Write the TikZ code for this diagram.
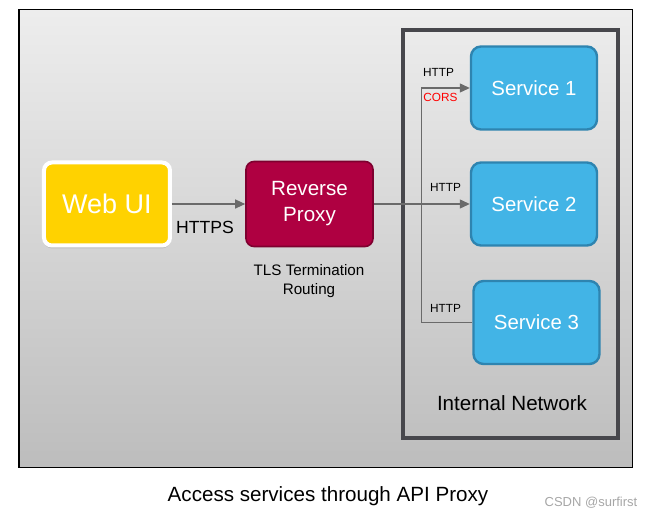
\documentclass[tikz,border=0pt]{standalone}
\usepackage{fontspec}
\setmainfont{Liberation Sans}
\usetikzlibrary{arrows.meta,positioning,shadows}

\definecolor{webyellow}{HTML}{FFD200}
\definecolor{proxyred}{HTML}{AF0041}
\definecolor{proxyedge}{HTML}{7E002F}
\definecolor{svcblue}{HTML}{42B4E6}
\definecolor{svcedge}{HTML}{2E84B0}
\definecolor{netedge}{HTML}{47474C}
\definecolor{linkgray}{HTML}{6A6A6A}

\tikzset{
  svcbox/.style={draw=svcedge, line width=1.2pt, fill=svcblue, rounded corners=5pt,
    minimum width=63pt, minimum height=41.5pt, inner sep=0pt, text=white,
    font=\fontsize{10.2}{12}\selectfont},
  link/.style={draw=linkgray, line width=0.6pt},
  tip/.style={-{Triangle[length=5pt,width=4.5pt]}},
  lbl/.style={inner sep=0pt, font=\fontsize{5.9}{7}\selectfont}
}

\begin{document}
\begin{tikzpicture}[x=0.5pt,y=-0.5pt]
\useasboundingbox (0,0) rectangle (650,518);

\shade[top color=gray!14, bottom color=gray!52] (19,10) rectangle (633,468);
\draw[black, line width=0.5pt] (19,10) rectangle (633,468);

\draw[netedge, line width=1.6pt] (403,30) rectangle (618,438);
\node[font=\fontsize{10.3}{12}\selectfont] (net) at (512,403) {Internal Network};

\node[draw=white, line width=2pt, fill=webyellow, rounded corners=4pt,
  minimum width=63pt, minimum height=41.5pt, text=white,
  font=\fontsize{13.5}{16}\selectfont,
  drop shadow={opacity=0.25, shadow xshift=0pt, shadow yshift=-1.5pt}]
  (web) at (107,204) {Web UI};

\node[draw=proxyedge, line width=0.8pt, fill=proxyred, rounded corners=4pt,
  minimum width=63.5pt, minimum height=42.5pt, text=white, align=center,
  font=\fontsize{10.3}{13}\selectfont]
  (proxy) at (309.5,204) {Reverse\\Proxy};

\node[svcbox] (svc1) at (534,88) {Service 1};
\node[svcbox] (svc2) at (534,204) {Service 2};
\node[svcbox] (svc3) at (536.5,322.5) {Service 3};

\node[font=\fontsize{8.8}{10}\selectfont, inner sep=0pt] (https) at (205,227) {HTTPS};
\node[font=\fontsize{7.6}{9.5}\selectfont, align=center, inner sep=0pt] (tls) at (309,281.5) {TLS Termination\\Routing};

\coordinate (fork) at (421.5,204);

\draw[link, tip] (web) -- (proxy);
\draw[link] (proxy) -- (fork);
\draw[link, tip] (fork) |- (svc1.west);
\draw[link, tip] (fork) -- (svc2.west);
\draw[link] (fork) |- (svc3.west);

\node[lbl] (http1) at (438.5,72.5) {HTTP};
\node[lbl, text=red] (cors) at (440.5,97) {CORS};
\node[lbl] (http2) at (445.5,187) {HTTP};
\node[lbl] (http3) at (445.5,308.5) {HTTP};

\node[font=\fontsize{10.3}{12}\selectfont] (caption) at (328,496) {Access services through API Proxy};
\node[font=\fontsize{6.5}{8}\selectfont, text=gray!70] (mark) at (591,503) {CSDN @surfirst};
\end{tikzpicture}
\end{document}
